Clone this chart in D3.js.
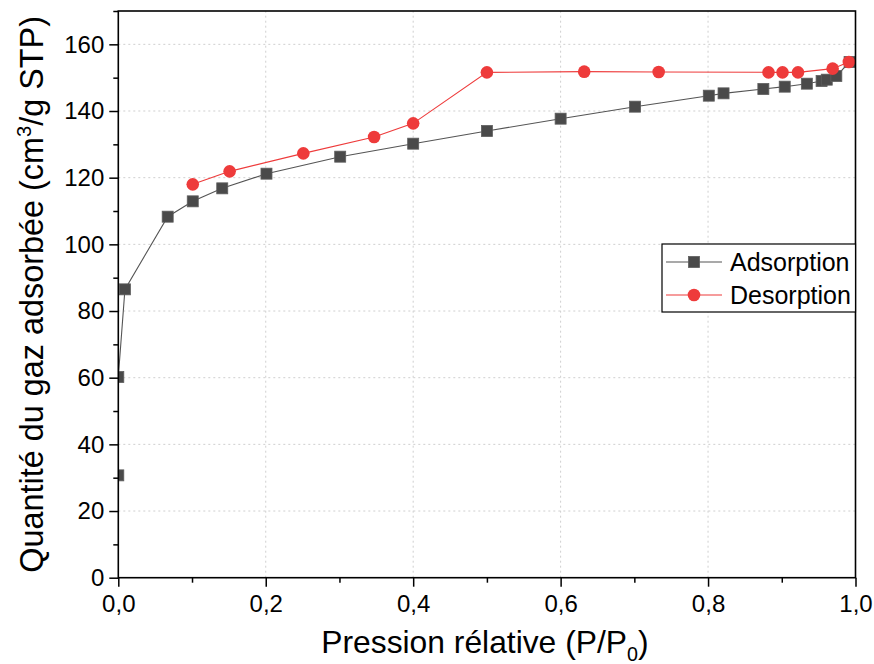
<!DOCTYPE html>
<html><head><meta charset="utf-8">
<script src="https://cdn.jsdelivr.net/npm/d3@7"></script>
<style>
html,body{margin:0;padding:0;background:#fff;}
svg{display:block;font-family:"Liberation Sans",Arial,sans-serif;}
</style></head>
<body>
<svg id="chart" width="874" height="664"></svg>
<script>
// ---- data ----
const adsorptionX = [0.0, 0.0, 0.009, 0.067, 0.101, 0.141, 0.201, 0.301, 0.400, 0.500, 0.600, 0.701, 0.801, 0.821, 0.875, 0.904, 0.934, 0.954, 0.961, 0.974, 0.992];
const adsorptionY = [30.7, 60.2, 86.5, 108.3, 112.9, 116.8, 121.2, 126.3, 130.2, 134.0, 137.7, 141.3, 144.6, 145.3, 146.6, 147.3, 148.2, 149.0, 149.4, 150.5, 154.7];
const desorptionX = [0.101, 0.151, 0.251, 0.347, 0.400, 0.500, 0.632, 0.733, 0.882, 0.901, 0.922, 0.969, 0.991];
const desorptionY = [118.0, 121.9, 127.3, 132.2, 136.3, 151.6, 151.8, 151.7, 151.6, 151.6, 151.6, 152.7, 154.7];
const xMajorTicks = [0.0, 0.2, 0.4, 0.6, 0.8, 1.0];
const xMinorTicks = [0.1, 0.3, 0.5, 0.7, 0.9];
const yMajorTicks = [0, 20, 40, 60, 80, 100, 120, 140, 160];
const yMinorTicks = [10, 30, 50, 70, 90, 110, 130, 150, 170];
const seriesNames = ["Adsorption", "Desorption"];

// ---- layout ----
const svg = d3.select("#chart");
const L = 118.3, R = 855.5, T = 11, B = 577.7;
const x = d3.scaleLinear().domain([0, 1]).range([L, R]);
const y = d3.scaleLinear().domain([0, 170]).range([B, T]);
const fmtX = d => d3.format(".1f")(d).replace(".", ",");
const TICK_FONT = 24, XTITLE_FONT = 31.8, YTITLE_FONT = 32.4, LEG_FONT = 25;

// grid
const grid = svg.append("g").attr("stroke", "#cfcfcf").attr("stroke-width", 1).attr("stroke-dasharray", "2,3");
grid.selectAll("line.gx").data(xMajorTicks.filter(d => d > 0 && d < 1)).join("line")
  .attr("x1", d => x(d)).attr("x2", d => x(d)).attr("y1", B).attr("y2", T);
grid.selectAll("line.gy").data(yMajorTicks.filter(d => d > 0)).join("line")
  .attr("x1", L).attr("x2", R).attr("y1", d => y(d)).attr("y2", d => y(d));

// clip
svg.append("clipPath").attr("id", "plotclip").append("rect")
  .attr("x", L).attr("y", T).attr("width", R - L).attr("height", B - T);
const plot = svg.append("g").attr("clip-path", "url(#plotclip)");

const adsData = adsorptionX.map((v, i) => [v, adsorptionY[i]]);
const desData = desorptionX.map((v, i) => [v, desorptionY[i]]);
const line = d3.line().x(d => x(d[0])).y(d => y(d[1]));

const ADS_COL = "#4a4a4a", ADS_LINE = "#555555", DES_COL = "#ee3b3b";
const SQ = 11, CR = 6.3;

plot.append("path").datum(adsData).attr("d", line).attr("fill", "none").attr("stroke", ADS_LINE).attr("stroke-width", 1.1);
plot.selectAll("rect.ads").data(adsData).join("rect").attr("class", "ads")
  .attr("x", d => x(d[0]) - SQ / 2).attr("y", d => y(d[1]) - SQ / 2)
  .attr("width", SQ).attr("height", SQ).attr("fill", ADS_COL).attr("stroke", "#5e5e5e").attr("stroke-width", 0.8);

plot.append("path").datum(desData).attr("d", line).attr("fill", "none").attr("stroke", DES_COL).attr("stroke-width", 1.1);
plot.selectAll("circle.des").data(desData).join("circle").attr("class", "des")
  .attr("cx", d => x(d[0])).attr("cy", d => y(d[1])).attr("r", CR).attr("fill", DES_COL);

// axes
const xAxis = d3.axisBottom(x).tickValues(xMajorTicks).tickFormat(fmtX).tickSize(9).tickPadding(8);
const xMinor = d3.axisBottom(x).tickValues(xMinorTicks).tickFormat("").tickSize(5);
const yAxis = d3.axisLeft(y).tickValues(yMajorTicks).tickFormat(d3.format("d")).tickSize(9).tickPadding(5);
const yMinor = d3.axisLeft(y).tickValues(yMinorTicks).tickFormat("").tickSize(5);

function styleAxis(g) {
  g.select(".domain").remove();
  g.selectAll("line").attr("stroke", "#000").attr("stroke-width", 1.5);
  g.selectAll("text").attr("fill", "#000").style("font-size", TICK_FONT + "px").style("font-family", '"Liberation Sans",Arial,sans-serif');
}
svg.append("g").attr("transform", `translate(0,${B})`).call(xMinor).call(styleAxis);
svg.append("g").attr("transform", `translate(0,${B})`).call(xAxis).call(styleAxis);
svg.append("g").attr("transform", `translate(${L},0)`).call(yMinor).call(styleAxis);
svg.append("g").attr("transform", `translate(${L},0)`).call(yAxis).call(styleAxis);

// frame
svg.append("rect").attr("x", L).attr("y", T).attr("width", R - L).attr("height", B - T)
  .attr("fill", "none").attr("stroke", "#000").attr("stroke-width", 1.6);

// axis titles
const xt = svg.append("text").attr("x", (L + R) / 2 - 2).attr("y", 653).attr("text-anchor", "middle")
  .style("font-size", XTITLE_FONT + "px").attr("fill", "#000");
xt.append("tspan").text("Pression rélative (P/P");
xt.append("tspan").attr("dy", 8).style("font-size", (XTITLE_FONT * 0.62) + "px").text("0");
xt.append("tspan").attr("dy", -8).text(")");

const yt = svg.append("text").attr("transform", `translate(43,${(T + B) / 2}) rotate(-90)`)
  .attr("text-anchor", "middle").style("font-size", YTITLE_FONT + "px").attr("fill", "#000");
yt.append("tspan").text("Quantité du gaz adsorbée (cm");
yt.append("tspan").attr("dy", -12).style("font-size", (YTITLE_FONT * 0.62) + "px").text("3");
yt.append("tspan").attr("dy", 12).text("/g STP)");

// legend
const lg = svg.append("g");
lg.append("rect").attr("x", 662).attr("y", 244).attr("width", R - 662).attr("height", 68)
  .attr("fill", "#fff").attr("stroke", "#000").attr("stroke-width", 1.2);
const legY = [262, 295];
// Adsorption
lg.append("line").attr("x1", 666).attr("x2", 722).attr("y1", legY[0]).attr("y2", legY[0]).attr("stroke", ADS_LINE).attr("stroke-width", 1.1);
lg.append("rect").attr("x", 694 - SQ / 2).attr("y", legY[0] - SQ / 2).attr("width", SQ).attr("height", SQ).attr("fill", ADS_COL).attr("stroke", "#5e5e5e").attr("stroke-width", 0.8);
lg.append("text").attr("x", 730).attr("y", legY[0] + 9).style("font-size", LEG_FONT + "px").attr("fill", "#000").text(seriesNames[0]);
// Desorption
lg.append("line").attr("x1", 666).attr("x2", 722).attr("y1", legY[1]).attr("y2", legY[1]).attr("stroke", DES_COL).attr("stroke-width", 1.1);
lg.append("circle").attr("cx", 694).attr("cy", legY[1]).attr("r", CR).attr("fill", DES_COL);
lg.append("text").attr("x", 730).attr("y", legY[1] + 9).style("font-size", LEG_FONT + "px").attr("fill", "#000").text(seriesNames[1]);
</script>
</body></html>
